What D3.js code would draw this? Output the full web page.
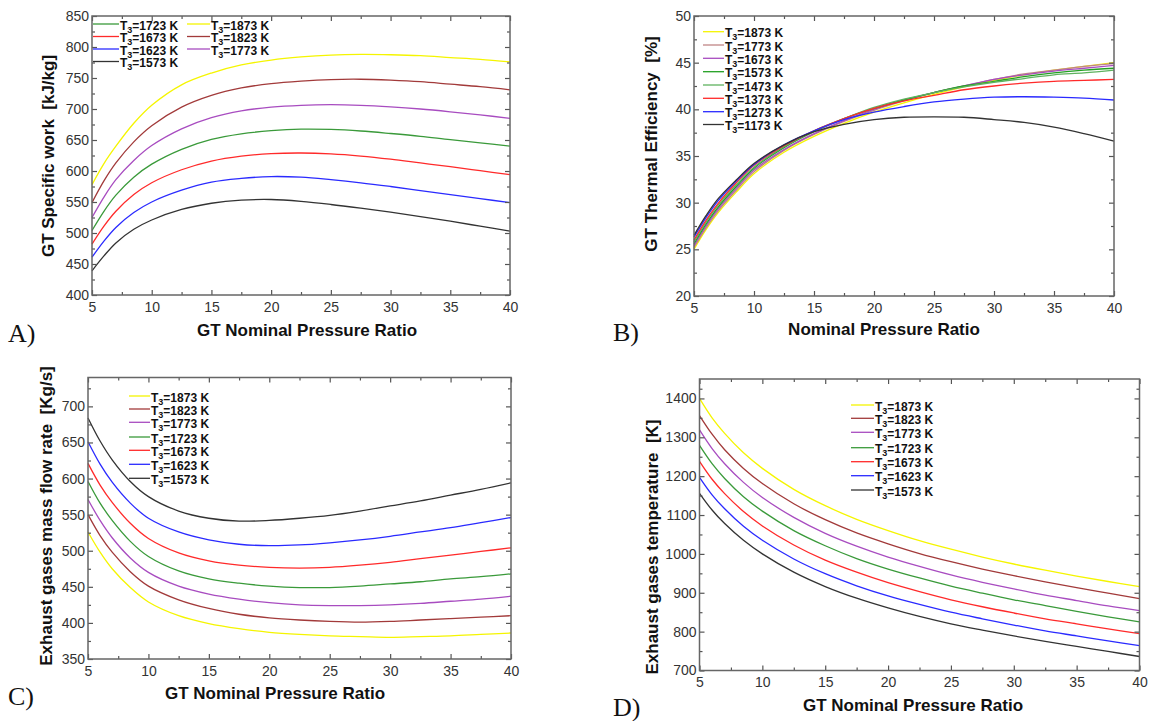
<!DOCTYPE html>
<html>
<head>
<meta charset="utf-8">
<script src="https://cdn.jsdelivr.net/npm/d3@7"></script>
<style>
  body { margin: 0; background: #fff; }
  svg text { font-family: Arial, "Liberation Sans", sans-serif; }
</style>
</head>
<body>
<svg id="fig" width="1151" height="721"></svg>
<script>
// shared x grid (GT nominal pressure ratio)
const pressureRatio = [5, 6, 7, 8.5, 10, 12.5, 15, 17.5, 20, 22.5, 25, 27.5, 30, 32.5, 35, 37.5, 40];
const xTicks = [5, 10, 15, 20, 25, 30, 35, 40];

// A) GT specific work [kJ/kg]
const workLabels = ["1873", "1823", "1773", "1723", "1673", "1623", "1573"];
const workValues = [
  [578, 612, 640, 677, 706, 739, 758, 771, 779, 784, 787, 788, 787.5, 786, 783, 780, 776],
  [549, 584, 613, 647, 673, 703, 722, 734, 741, 745, 747.5, 748, 746.5, 744, 740, 736, 731],
  [525, 558, 586, 617, 641, 668, 686, 697, 703, 706, 707, 706, 703.5, 700, 695.5, 690.5, 685],
  [504, 535, 561, 590, 611, 635, 651, 660, 665, 667.5, 667, 664.5, 660.5, 656, 650.5, 645.5, 640],
  [482, 511, 535, 562, 581, 602, 616, 624, 628, 629, 627.5, 624, 619, 613, 607, 600.5, 594],
  [461, 487, 509, 533, 550, 569, 582, 588, 591, 590, 586, 581, 575, 568.5, 562, 555.5, 549],
  [439, 463, 484, 506, 521, 538, 548, 553, 554, 551, 546, 540, 533.5, 526.5, 519, 511, 503]
];
const workTicks = [400, 450, 500, 550, 600, 650, 700, 750, 800, 850];

// B) GT thermal efficiency [%]
const effLabels = ["1873", "1773", "1673", "1573", "1473", "1373", "1273", "1173"];
const effValues = [
  [25.0, 27.1, 28.9, 31.1, 33.1, 35.4, 37.1, 38.5, 39.7, 40.7, 41.6, 42.4, 43.1, 43.7, 44.2, 44.6, 45.0],
  [25.2, 27.3, 29.1, 31.3, 33.3, 35.6, 37.3, 38.7, 39.9, 40.9, 41.8, 42.5, 43.2, 43.8, 44.2, 44.6, 44.9],
  [25.4, 27.5, 29.3, 31.5, 33.5, 35.7, 37.4, 38.8, 40.0, 41.0, 41.8, 42.5, 43.2, 43.7, 44.1, 44.4, 44.7],
  [25.6, 27.7, 29.5, 31.7, 33.7, 35.9, 37.6, 39.0, 40.1, 41.0, 41.8, 42.5, 43.0, 43.5, 43.9, 44.2, 44.4],
  [25.8, 27.9, 29.7, 31.9, 33.8, 36.0, 37.7, 39.0, 40.2, 41.1, 41.8, 42.4, 42.9, 43.3, 43.7, 43.9, 44.2],
  [26.0, 28.1, 29.9, 32.1, 34.0, 36.1, 37.7, 39.0, 40.1, 40.9, 41.5, 42.1, 42.5, 42.8, 43.0, 43.1, 43.2],
  [26.3, 28.4, 30.2, 32.3, 34.1, 36.2, 37.7, 38.9, 39.7, 40.3, 40.8, 41.1, 41.3, 41.35, 41.3, 41.2, 41.0],
  [26.5, 28.6, 30.4, 32.4, 34.2, 36.2, 37.6, 38.4, 38.9, 39.15, 39.2, 39.15, 38.9, 38.6, 38.1, 37.4, 36.6]
];
const effTicks = [20, 25, 30, 35, 40, 45, 50];

// C) exhaust gases mass flow rate [Kg/s]
const flowLabels = ["1873", "1823", "1773", "1723", "1673", "1623", "1573"];
const flowValues = [
  [526, 498, 475, 449, 429, 410, 399, 392, 387, 384, 382, 381, 380, 381, 382, 384, 386],
  [550, 521, 498, 471, 451, 432, 420, 412, 407, 404, 402, 401, 402, 404, 406, 408, 410],
  [571, 542, 518, 490, 470, 451, 440, 433, 428, 425, 424, 424, 425, 427, 430, 433, 437],
  [596, 566, 542, 513, 492, 472, 461, 455, 451, 449, 449, 451, 454, 457, 461, 464, 468],
  [621, 591, 567, 538, 517, 497, 486, 480, 477, 476, 477, 480, 484, 489, 494, 499, 504],
  [651, 620, 595, 566, 545, 526, 515, 509, 507, 508, 511, 515, 520, 526, 532, 539, 546],
  [684, 652, 626, 596, 575, 555, 545, 541, 542, 545, 549, 555, 562, 569, 577, 585, 594]
];
const flowTicks = [350, 400, 450, 500, 550, 600, 650, 700];

// D) exhaust gases temperature [K]
const tempLabels = ["1873", "1823", "1773", "1723", "1673", "1623", "1573"];
const tempValues = [
  [1400, 1350, 1310, 1260, 1220, 1166, 1124, 1089, 1060, 1034, 1012, 992, 974, 958, 943, 929, 916],
  [1356, 1308, 1268, 1220, 1181, 1129, 1088, 1054, 1026, 1001, 980, 961, 944, 928, 913, 899, 885],
  [1319, 1271, 1232, 1184, 1145, 1094, 1053, 1020, 992, 968, 946, 927, 910, 894, 880, 866, 854],
  [1279, 1232, 1194, 1147, 1110, 1060, 1021, 988, 961, 938, 917, 899, 882, 867, 852, 838, 825],
  [1238, 1192, 1155, 1109, 1072, 1023, 984, 953, 926, 903, 882, 864, 848, 833, 820, 807, 795],
  [1197, 1152, 1116, 1071, 1035, 987, 949, 918, 892, 870, 850, 833, 817, 802, 789, 776, 764],
  [1156, 1113, 1078, 1035, 1000, 953, 916, 886, 861, 839, 820, 804, 789, 775, 762, 749, 736]
];
const tempTicks = [700, 800, 900, 1000, 1100, 1200, 1300, 1400];

const colorOf = {
  "1873": "#f5f500", "1823": "#a23a3a", "1773": "#a84cc0", "1723": "#3a9a3a",
  "1673": "#ff2a2a", "1623": "#2a2aff", "1573": "#333333"
};
const effColorOf = {
  "1873": "#f5f500", "1773": "#c08585", "1673": "#a84cc0", "1573": "#22a022",
  "1473": "#5fb25f", "1373": "#ff2a2a", "1273": "#2a2aff", "1173": "#333333"
};

const svg = d3.select("#fig");

function drawPanel(p) {
  const x = d3.scaleLinear().domain([5, 40]).range([p.left, p.right]);
  const y = d3.scaleLinear().domain(p.yDomain).range([p.bottom, p.top]);
  const g = svg.append("g");

  const line = d3.line()
    .x((d, i) => x(pressureRatio[i]))
    .y((d) => y(d))
    .curve(d3.curveCatmullRom.alpha(0.5));

  p.values.forEach((vals, i) => {
    g.append("path")
      .attr("d", line(vals))
      .attr("fill", "none")
      .attr("stroke", p.colors[p.labels[i]])
      .attr("stroke-width", 1.3);
  });

  const xMinor = d3.range(7.5, 40, 5);
  const yMinor = p.yTicks.slice(0, -1).map((v, i) => (v + p.yTicks[i + 1]) / 2);
  const yMinorAll = p.extraMinor ? yMinor.concat(p.extraMinor) : yMinor;

  const styleAxis = (sel) => {
    sel.select(".domain").remove();
    sel.selectAll("line").attr("stroke", "#555").attr("stroke-width", 1.2);
    sel.selectAll("text").attr("font-size", 14).attr("fill", "#333");
  };

  g.append("g").attr("transform", `translate(0,${p.bottom})`)
    .call(d3.axisBottom(x).tickValues(xTicks).tickSize(-5).tickPadding(7).tickFormat(d3.format("d")))
    .call(styleAxis);
  g.append("g").attr("transform", `translate(0,${p.bottom})`)
    .call(d3.axisBottom(x).tickValues(xMinor).tickSize(-3).tickFormat(""))
    .call(styleAxis);
  g.append("g").attr("transform", `translate(0,${p.top})`)
    .call(d3.axisTop(x).tickValues(xTicks).tickSize(-5).tickFormat(""))
    .call(styleAxis);
  g.append("g").attr("transform", `translate(0,${p.top})`)
    .call(d3.axisTop(x).tickValues(xMinor).tickSize(-3).tickFormat(""))
    .call(styleAxis);

  g.append("g").attr("transform", `translate(${p.left},0)`)
    .call(d3.axisLeft(y).tickValues(p.yTicks).tickSize(-5).tickPadding(3).tickFormat(d3.format("d")))
    .call(styleAxis);
  g.append("g").attr("transform", `translate(${p.left},0)`)
    .call(d3.axisLeft(y).tickValues(yMinorAll).tickSize(-3).tickFormat(""))
    .call(styleAxis);
  g.append("g").attr("transform", `translate(${p.right},0)`)
    .call(d3.axisRight(y).tickValues(p.yTicks).tickSize(-5).tickFormat(""))
    .call(styleAxis);
  g.append("g").attr("transform", `translate(${p.right},0)`)
    .call(d3.axisRight(y).tickValues(yMinorAll).tickSize(-3).tickFormat(""))
    .call(styleAxis);

  g.append("rect")
    .attr("x", p.left).attr("y", p.top)
    .attr("width", p.right - p.left).attr("height", p.bottom - p.top)
    .attr("fill", "none").attr("stroke", "#666").attr("stroke-width", 1.5);

  // axis titles
  g.append("text")
    .attr("x", p.xTitle[0]).attr("y", p.xTitle[1])
    .attr("text-anchor", "middle").attr("dominant-baseline", "central")
    .attr("font-size", 17).attr("font-weight", "bold").attr("fill", "#111")
    .text(p.xLabel);
  g.append("text")
    .attr("transform", `translate(${p.yTitle[0]},${p.yTitle[1]}) rotate(-90)`)
    .attr("text-anchor", "middle").attr("dominant-baseline", "central")
    .attr("font-size", 17).attr("font-weight", "bold").attr("fill", "#111")
    .style("white-space", "pre")
    .text(p.yLabel);

  // panel letter
  g.append("text")
    .attr("x", p.letterPos[0]).attr("y", p.letterPos[1])
    .style("font-family", "'Liberation Serif', 'Times New Roman', serif")
    .attr("font-size", 26).attr("fill", "#111")
    .text(p.letter);

  // legend
  p.legend.forEach((item) => {
    g.append("line")
      .attr("x1", item.x1).attr("x2", item.x2)
      .attr("y1", item.y).attr("y2", item.y)
      .attr("stroke", p.colors[item.label]).attr("stroke-width", 1.3);
    const t = g.append("text")
      .attr("x", item.x2 + 1).attr("y", item.y + 5.5)
      .attr("font-size", 12).attr("font-weight", "bold").attr("fill", "#111");
    t.append("tspan").text("T");
    t.append("tspan").attr("dy", 3).attr("font-size", 9).text("3");
    t.append("tspan").attr("dy", -3).text(`=${item.label} K`);
  });
}

function legendRows(labels, x1, x2, ys) {
  return labels.map((label, i) => ({ label, x1, x2, y: ys[i] }));
}

drawPanel({
  left: 92, right: 510, top: 16, bottom: 295,
  yDomain: [400, 850], yTicks: workTicks,
  labels: workLabels, values: workValues, colors: colorOf,
  xLabel: "GT Nominal Pressure Ratio", xTitle: [307, 330],
  yLabel: "GT Specific work  [kJ/kg]", yTitle: [48, 156],
  letter: "A)", letterPos: [8, 342],
  legend: legendRows(["1723", "1673", "1623", "1573"], 93, 119, [24, 36.5, 49, 61.5])
    .concat(legendRows(["1873", "1823", "1773"], 187, 210, [24, 36.5, 49]))
});

drawPanel({
  left: 694, right: 1114, top: 16, bottom: 296,
  yDomain: [20, 50], yTicks: effTicks,
  labels: effLabels, values: effValues, colors: effColorOf,
  xLabel: "Nominal Pressure Ratio", xTitle: [884, 329],
  yLabel: "GT Thermal Efficiency  [%]", yTitle: [651, 144],
  letter: "B)", letterPos: [613, 341],
  legend: legendRows(effLabels, 703, 724, [31.7, 45, 58.3, 71.7, 85, 98.3, 111.7, 124.5])
});

drawPanel({
  left: 88, right: 511, top: 377.5, bottom: 659,
  yDomain: [350, 740], yTicks: flowTicks, extraMinor: [725],
  labels: flowLabels, values: flowValues, colors: colorOf,
  xLabel: "GT Nominal Pressure Ratio", xTitle: [275, 693],
  yLabel: "Exhaust gases mass flow rate  [Kg/s]", yTitle: [46, 516],
  letter: "C)", letterPos: [8, 705],
  legend: legendRows(flowLabels, 129, 150, [396, 409, 422.3, 437, 450.3, 464.3, 478.3])
});

drawPanel({
  left: 699.5, right: 1139.5, top: 379, bottom: 670.5,
  yDomain: [700, 1450], yTicks: tempTicks, extraMinor: [1425],
  labels: tempLabels, values: tempValues, colors: colorOf,
  xLabel: "GT Nominal Pressure Ratio", xTitle: [913, 705],
  yLabel: "Exhaust gases temperature  [K]", yTitle: [652, 547],
  letter: "D)", letterPos: [613, 716],
  legend: legendRows(tempLabels, 851, 874, [405, 418.3, 432.3, 447.7, 461.7, 475.7, 490])
});
</script>
</body>
</html>
